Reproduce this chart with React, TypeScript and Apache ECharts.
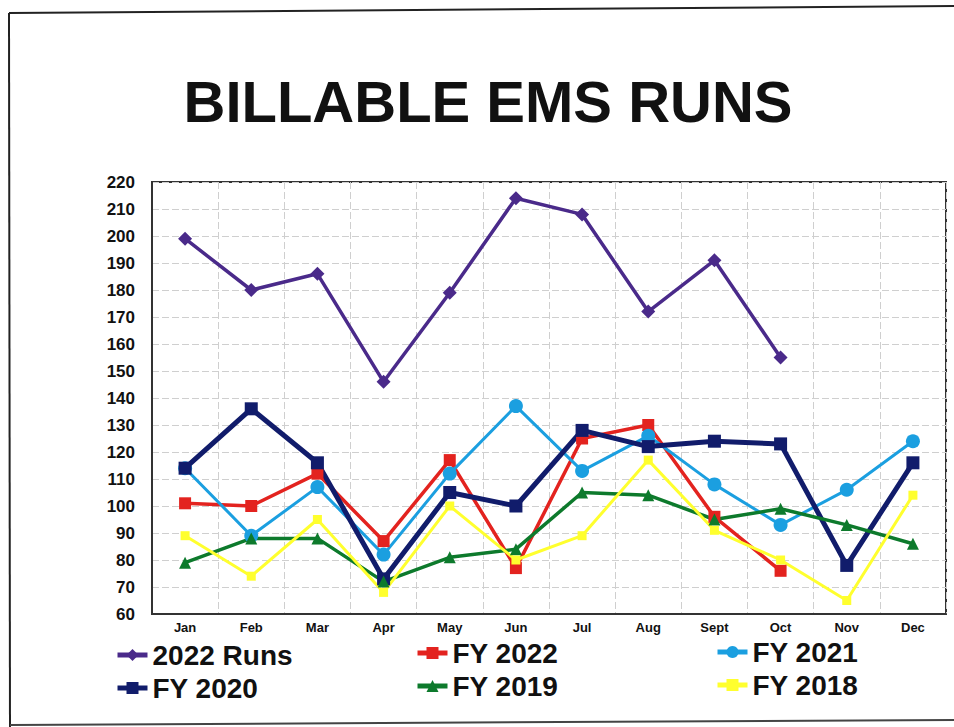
import React, { useEffect, useRef } from "react";
import * as echarts from "echarts";

const months = ["Jan", "Feb", "Mar", "Apr", "May", "Jun", "Jul", "Aug", "Sept", "Oct", "Nov", "Dec"];
const yTicks = { min: 60, max: 220, interval: 10 };

const runs2022 = [199, 180, 186, 146, 179, 214, 208, 172, 191, 155, null, null];
const fy2022 = [101, 100, 112, 87, 117, 77, 125, 130, 96, 76, null, null];
const fy2021 = [114, 89, 107, 82, 112, 137, 113, 126, 108, 93, 106, 124];
const fy2020 = [114, 136, 116, 73, 105, 100, 128, 122, 124, 123, 78, 116];
const fy2019 = [79, 88, 88, 72, 81, 84, 105, 104, 95, 99, 93, 86];
const fy2018 = [89, 74, 95, 68, 100, 80, 89, 117, 91, 80, 65, 104];

const FONT = "'Liberation Sans', Arial, Helvetica, sans-serif";

type SeriesDef = {
  name: string;
  data: (number | null)[];
  color: string;
  symbol: string;
  symbolSize: number;
  width: number;
};

const seriesDefs: SeriesDef[] = [
  { name: "2022 Runs", data: runs2022, color: "#4a2a8a", symbol: "diamond", symbolSize: 14, width: 3.5 },
  { name: "FY 2022", data: fy2022, color: "#e3231f", symbol: "rect", symbolSize: 12, width: 3.5 },
  { name: "FY 2021", data: fy2021, color: "#1b9fe0", symbol: "circle", symbolSize: 14, width: 3 },
  { name: "FY 2020", data: fy2020, color: "#111c6b", symbol: "rect", symbolSize: 13, width: 5 },
  { name: "FY 2019", data: fy2019, color: "#0d7a2c", symbol: "triangle", symbolSize: 12, width: 3.5 },
  { name: "FY 2018", data: fy2018, color: "#ffff2e", symbol: "rect", symbolSize: 9, width: 3 },
];

// legend laid out as three two-row columns under the plot
const legendColumns = [
  { names: ["2022 Runs", "FY 2020"], left: 115, top: 641 },
  { names: ["FY 2022", "FY 2019"], left: 415, top: 639 },
  { names: ["FY 2021", "FY 2018"], left: 715, top: 638 },
];

export default function App() {
  const ref = useRef<HTMLDivElement>(null);

  useEffect(() => {
    if (!ref.current) return;
    const chart = echarts.init(ref.current, undefined, { renderer: "svg" });

    chart.setOption({
      animation: false,
      backgroundColor: "#ffffff",
      textStyle: { fontFamily: FONT },
      graphic: [
        // page frame
        { type: "line", shape: { x1: 9, y1: 13, x2: 954, y2: 6 }, style: { stroke: "#222", lineWidth: 2 } },
        { type: "line", shape: { x1: 9, y1: 13, x2: 10, y2: 727 }, style: { stroke: "#222", lineWidth: 2 } },
        { type: "line", shape: { x1: 10, y1: 725, x2: 954, y2: 720 }, style: { stroke: "#444", lineWidth: 2 } },
        {
          type: "text",
          x: 488,
          y: 101,
          style: {
            text: "BILLABLE EMS RUNS",
            font: `bold 58px ${FONT}`,
            fill: "#111",
            textAlign: "center",
            textVerticalAlign: "middle",
          },
        },
      ],
      grid: {
        left: 152,
        top: 182,
        width: 794,
        height: 432,
        show: true,
        borderColor: "#333",
        borderWidth: 2,
        backgroundColor: "transparent",
      },
      legend: legendColumns.map((col) => ({
        orient: "vertical",
        left: col.left,
        top: col.top,
        data: col.names,
        itemWidth: 30,
        itemHeight: 15,
        itemGap: 5,
        padding: 0,
        selectedMode: false,
        lineStyle: { width: 5 },
        textStyle: {
          fontFamily: FONT,
          fontWeight: "bold",
          fontSize: 28,
          lineHeight: 28,
          color: "#111",
        },
      })),
      xAxis: {
        type: "category",
        data: months,
        boundaryGap: true,
        axisLine: { show: true, lineStyle: { color: "#333", width: 2 } },
        axisTick: { show: false },
        axisLabel: {
          color: "#111",
          fontFamily: FONT,
          fontWeight: "bold",
          fontSize: 13,
          margin: 7,
        },
        splitLine: { show: true, lineStyle: { color: "#cfcfcf", width: 1, type: [7, 3] } },
      },
      yAxis: {
        type: "value",
        min: yTicks.min,
        max: yTicks.max,
        interval: yTicks.interval,
        axisLine: { show: true, lineStyle: { color: "#333", width: 2 } },
        axisTick: { show: false },
        axisLabel: {
          color: "#111",
          fontFamily: FONT,
          fontWeight: "bold",
          fontSize: 17,
          margin: 17,
        },
        splitLine: { show: true, lineStyle: { color: "#cfcfcf", width: 1, type: [7, 3] } },
      },
      series: seriesDefs.map((s) => ({
        name: s.name,
        type: "line",
        data: s.data,
        connectNulls: false,
        symbol: s.symbol,
        symbolSize: s.symbolSize,
        showSymbol: true,
        itemStyle: { color: s.color, borderWidth: 0 },
        lineStyle: { color: s.color, width: s.width },
        emphasis: { disabled: true },
      })),
    });

    return () => chart.dispose();
  }, []);

  return (
    <div
      ref={ref}
      style={{ position: "absolute", left: 0, top: 0, width: 954, height: 727 }}
    />
  );
}
